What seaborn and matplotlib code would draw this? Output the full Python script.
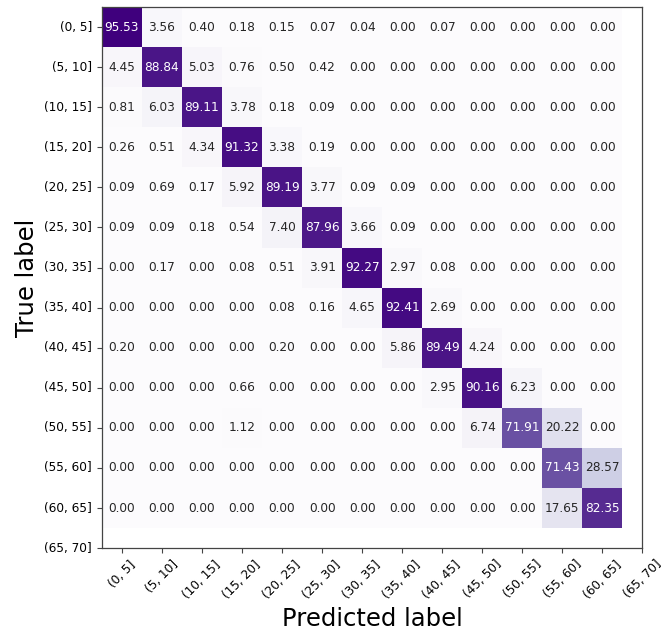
import numpy as np
import pandas as pd
import seaborn as sns
import matplotlib
matplotlib.use("Agg")
import matplotlib.pyplot as plt

# bin labels (14 ticks, but only 13 classes have data)
labels = ['(0, 5]', '(5, 10]', '(10, 15]', '(15, 20]', '(20, 25]', '(25, 30]', '(30, 35]',
          '(35, 40]', '(40, 45]', '(45, 50]', '(50, 55]', '(55, 60]', '(60, 65]', '(65, 70]']

# row-normalised confusion matrix in percent
row_0_5 = [95.53, 3.56, 0.40, 0.18, 0.15, 0.07, 0.04, 0.00, 0.07, 0.00, 0.00, 0.00, 0.00]
row_5_10 = [4.45, 88.84, 5.03, 0.76, 0.50, 0.42, 0.00, 0.00, 0.00, 0.00, 0.00, 0.00, 0.00]
row_10_15 = [0.81, 6.03, 89.11, 3.78, 0.18, 0.09, 0.00, 0.00, 0.00, 0.00, 0.00, 0.00, 0.00]
row_15_20 = [0.26, 0.51, 4.34, 91.32, 3.38, 0.19, 0.00, 0.00, 0.00, 0.00, 0.00, 0.00, 0.00]
row_20_25 = [0.09, 0.69, 0.17, 5.92, 89.19, 3.77, 0.09, 0.09, 0.00, 0.00, 0.00, 0.00, 0.00]
row_25_30 = [0.09, 0.09, 0.18, 0.54, 7.40, 87.96, 3.66, 0.09, 0.00, 0.00, 0.00, 0.00, 0.00]
row_30_35 = [0.00, 0.17, 0.00, 0.08, 0.51, 3.91, 92.27, 2.97, 0.08, 0.00, 0.00, 0.00, 0.00]
row_35_40 = [0.00, 0.00, 0.00, 0.00, 0.08, 0.16, 4.65, 92.41, 2.69, 0.00, 0.00, 0.00, 0.00]
row_40_45 = [0.20, 0.00, 0.00, 0.00, 0.20, 0.00, 0.00, 5.86, 89.49, 4.24, 0.00, 0.00, 0.00]
row_45_50 = [0.00, 0.00, 0.00, 0.66, 0.00, 0.00, 0.00, 0.00, 2.95, 90.16, 6.23, 0.00, 0.00]
row_50_55 = [0.00, 0.00, 0.00, 1.12, 0.00, 0.00, 0.00, 0.00, 0.00, 6.74, 71.91, 20.22, 0.00]
row_55_60 = [0.00, 0.00, 0.00, 0.00, 0.00, 0.00, 0.00, 0.00, 0.00, 0.00, 0.00, 71.43, 28.57]
row_60_65 = [0.00, 0.00, 0.00, 0.00, 0.00, 0.00, 0.00, 0.00, 0.00, 0.00, 0.00, 17.65, 82.35]

cm = np.array([row_0_5, row_5_10, row_10_15, row_15_20, row_20_25, row_25_30, row_30_35,
               row_35_40, row_40_45, row_45_50, row_50_55, row_55_60, row_60_65])
n = cm.shape[0]
df = pd.DataFrame(cm, index=labels[:n], columns=labels[:n])

fig = plt.figure(figsize=(6.61, 6.33), dpi=100)
ax = fig.add_axes([0.154, 0.134, 0.818, 0.855])

sns.heatmap(df, ax=ax, cmap='Purples', annot=True, fmt='.2f', cbar=False,
            annot_kws={'fontsize': 8.7})

# extend axes to the extra (65, 70] tick like the original
ticks = np.arange(len(labels)) + 0.5
ax.set_xlim(0, len(labels) - 0.5)
ax.set_ylim(len(labels) - 0.5, 0)
ax.set_xticks(ticks)
ax.set_yticks(ticks)
ax.set_xticklabels(labels, rotation=45, ha='center', fontsize=8.7)
ax.set_yticklabels(labels, rotation=0, fontsize=8.7)
ax.tick_params(length=3.5, width=0.8, color='#444444')

for s in ax.spines.values():
    s.set_visible(True)
    s.set_color('#444444')
    s.set_linewidth(0.9)

ax.set_xlabel('Predicted label', fontsize=17.5)
ax.set_ylabel('True label', fontsize=17.5)

fig.savefig('out.png', dpi=100)
